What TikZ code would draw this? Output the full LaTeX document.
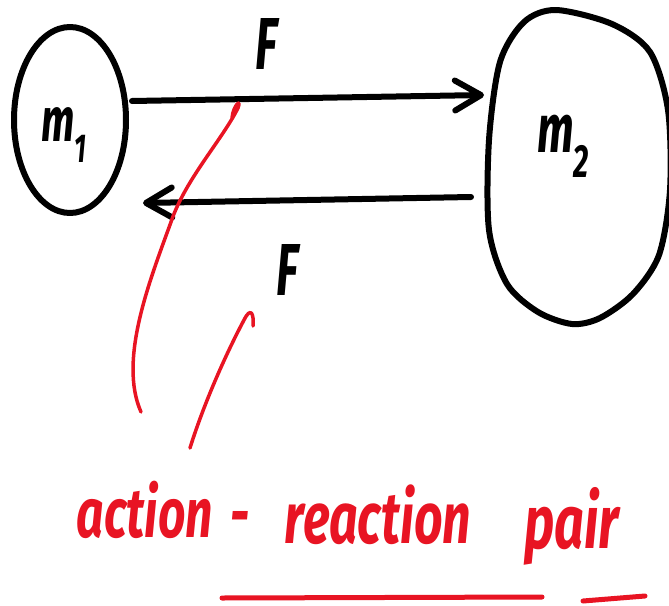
\documentclass[tikz,border=0pt]{standalone}
\usepackage{fontspec}
\usepackage{graphicx}
\newfontfamily\hand{Fira Sans}
\usetikzlibrary{arrows.meta,shapes.geometric}
\definecolor{pen}{RGB}{232,20,35}
\begin{document}
\begin{tikzpicture}[x=1pt,y=-1pt,
  ink/.style={line width=6pt, line cap=round, line join=round},
  redink/.style={draw=pen, line width=3.5pt, line cap=round, line join=round},
  force/.style={ink,-{Straight Barb[length=26pt,width=30pt,line width=6pt,round]}},
  lab/.style={font=\hand\bfseries\itshape, inner sep=0pt},
  rlab/.style={lab, text=pen, anchor=base}]
\useasboundingbox (0,0) rectangle (669,605);
% masses
\node[ellipse, draw, ink, minimum width=112pt, minimum height=186pt] (m1) at (70,120) {};
\draw[ink] plot[smooth cycle] coordinates {(556,10) (612,24) (650,52) (668,110) (670,190) (659,255) (633,294) (600,318) (572,324) (538,312) (507,284) (489,230) (489,140) (500,62) (524,22)};
\node[lab] (m1lab) at (64,135) {\scalebox{1}[1.55]{\fontsize{40}{40}\selectfont m\raisebox{-13pt}{\fontsize{26}{26}\selectfont 1}}};
\node[lab] (m2) at (563,146) {\scalebox{1}[1.55]{\fontsize{44}{44}\selectfont m\raisebox{-16pt}{\fontsize{30}{30}\selectfont 2}}};
% forces
\coordinate (t1) at (132,101);
\coordinate (t2) at (484,95);
\coordinate (b1) at (471,197);
\coordinate (b2) at (143,203);
\draw[force] (t1) -- (t2);
\draw[force] (b1) -- (b2);
\node[lab] (Ftop) at (267,44) {\scalebox{1}[1.6]{\fontsize{46}{46}\selectfont F}};
\node[lab] (Fbot) at (288,270) {\scalebox{1}[1.6]{\fontsize{46}{46}\selectfont F}};
% red annotation
\draw[redink] (232,118) .. controls (233,106) and (242,97) .. (238,108)
  .. controls (222,140) and (185,180) .. (171,222)
  .. controls (150,280) and (118,360) .. (141,412);
\draw[redink] (253,326) .. controls (254,314) and (251,306) .. (244,320)
  .. controls (228,350) and (205,400) .. (190,448);
\node[rlab] (w1) at (145,537) {\scalebox{1}[1.45]{\fontsize{48}{48}\selectfont action}};
\node[rlab] (w2) at (240,537) {\scalebox{1}[1.45]{\fontsize{48}{48}\selectfont -}};
\node[rlab] (w3) at (378,543) {\scalebox{1}[1.45]{\fontsize{50}{50}\selectfont reaction}};
\node[rlab] (w4) at (572,548) {\scalebox{1}[1.45]{\fontsize{52}{52}\selectfont pair}};
\draw[redink, line width=5pt] (222,598) -- (542,597);
\draw[redink, line width=5pt] (583,601) -- (645,596);
\end{tikzpicture}
\end{document}
